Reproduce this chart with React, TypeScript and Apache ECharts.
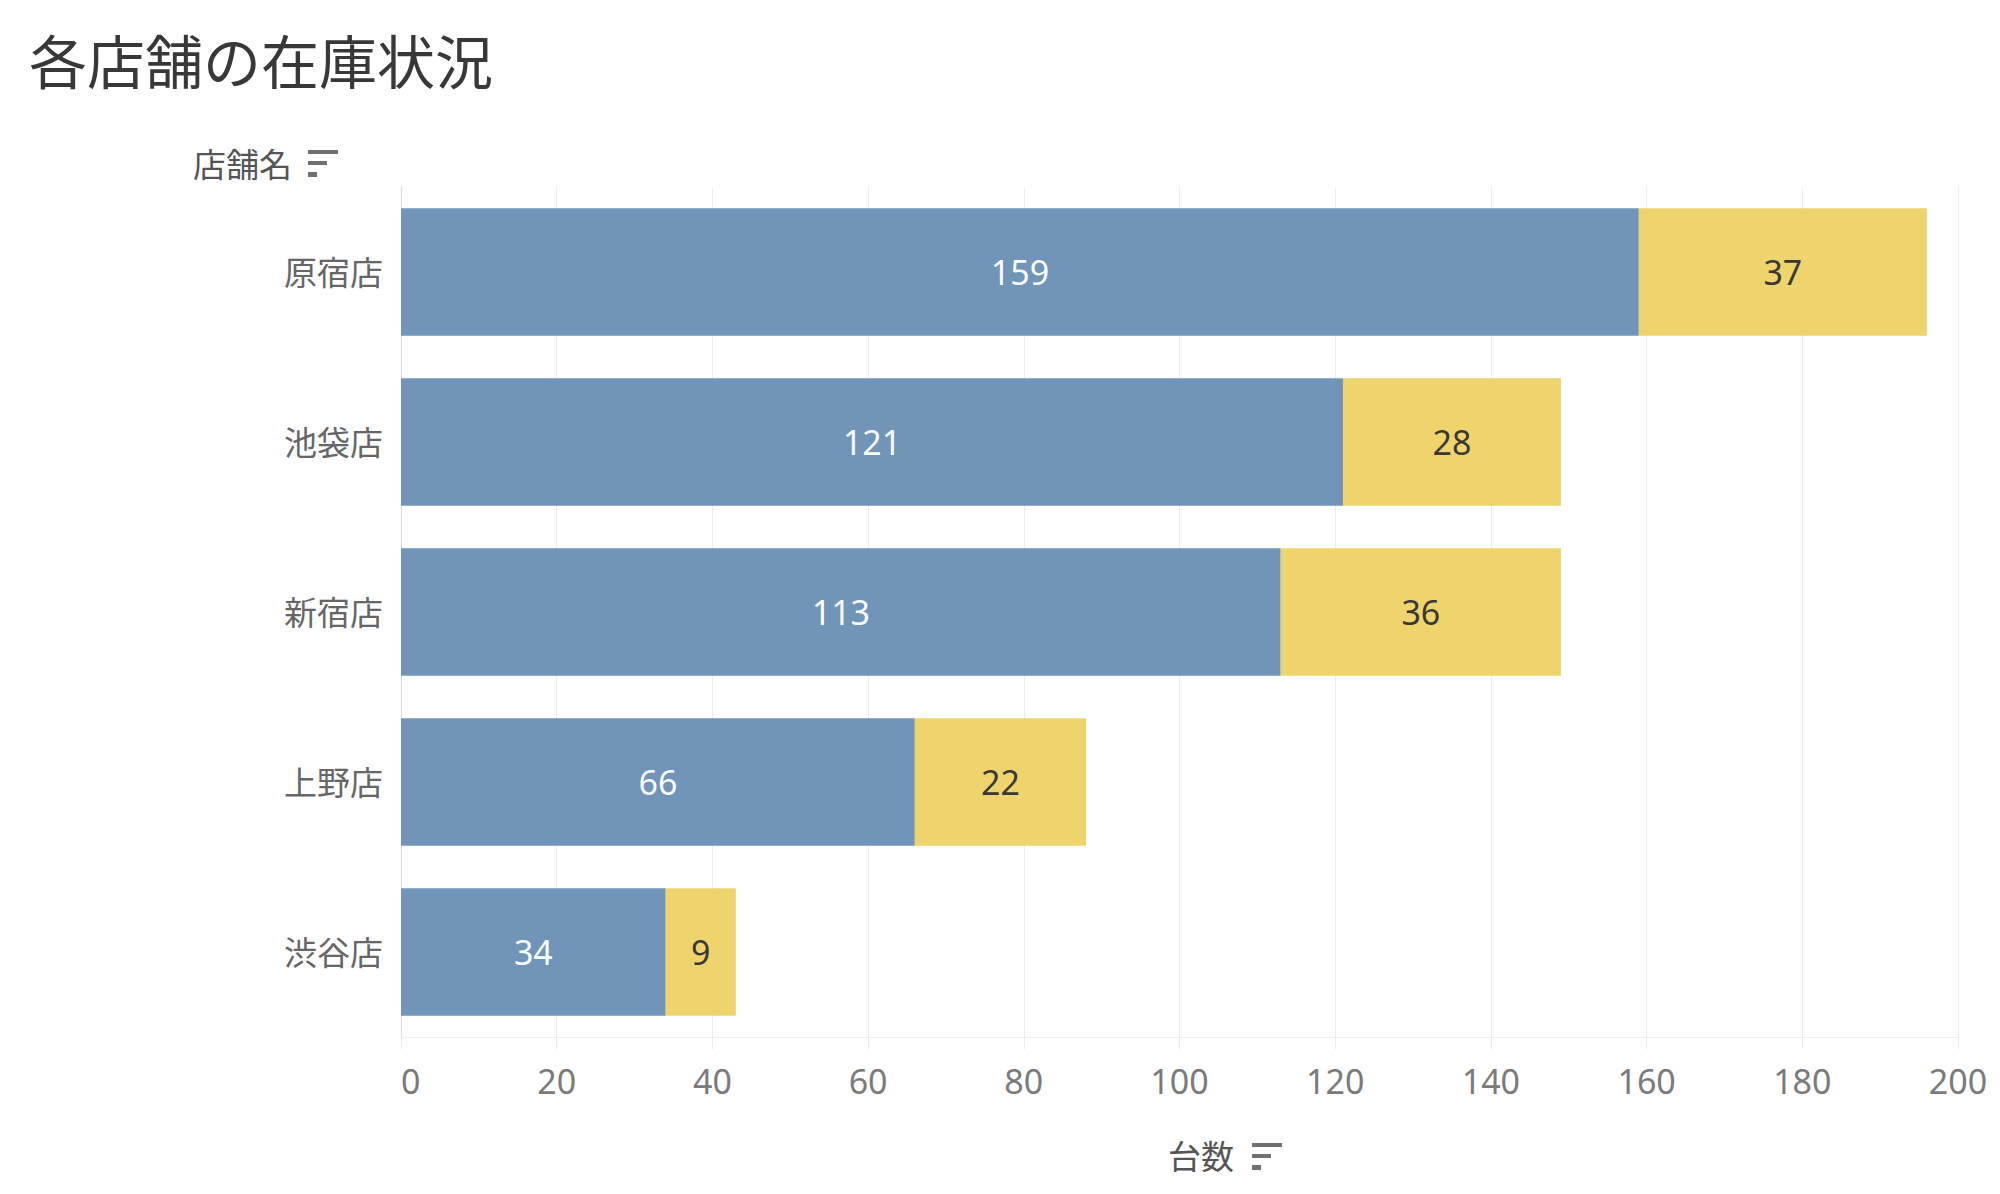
import React, { useEffect, useRef } from "react";
import * as echarts from "echarts";

const stores = ["原宿店", "池袋店", "新宿店", "上野店", "渋谷店"];
const blueValues = [159, 121, 113, 66, 34];
const yellowValues = [37, 28, 36, 22, 9];
const seriesNames = ["在庫", "入荷予定"];
const titleText = "各店舗の在庫状況";
const yAxisName = "店舗名";
const xAxisName = "台数";
const xMin = 0;
const xMax = 200;
const xInterval = 20;

const FONT = '"Noto Sans", "Noto Sans CJK JP", sans-serif';

function sortIcon(x: number, y: number) {
  const c = "#707070";
  return {
    type: "group",
    x,
    y,
    children: [
      { type: "rect", shape: { x: 0, y: 0, width: 30, height: 4 }, style: { fill: c } },
      { type: "rect", shape: { x: 0, y: 11, width: 19, height: 4 }, style: { fill: c } },
      { type: "rect", shape: { x: 0, y: 22, width: 9, height: 5 }, style: { fill: c } },
    ],
  };
}

export default function App() {
  const ref = useRef<HTMLDivElement>(null);
  useEffect(() => {
    if (!ref.current) return;
    const chart = echarts.init(ref.current, null, { renderer: "svg" });
    chart.setOption({
      animation: false,
      backgroundColor: "#ffffff",
      textStyle: { fontFamily: FONT },
      title: {
        text: titleText,
        left: 24,
        top: 27,
        textStyle: { fontSize: 58, fontWeight: "normal", color: "#383838", fontFamily: FONT },
      },
      grid: { left: 401, right: 42, top: 187, bottom: 157, containLabel: false },
      xAxis: {
        type: "value",
        min: xMin,
        max: xMax,
        interval: xInterval,
        axisLine: { show: true, lineStyle: { color: "#eeeeee", width: 1 } },
        axisTick: { show: true, length: 12, lineStyle: { color: "#eaeaea", width: 1 } },
        splitLine: { show: true, lineStyle: { color: "#ececec", width: 1 } },
        axisLabel: {
          fontSize: 34,
          color: "#7a7a7a",
          margin: 27,
          fontFamily: FONT,
          alignMinLabel: "left",
        },
      },
      yAxis: {
        type: "category",
        data: stores,
        inverse: true,
        axisLine: { show: true, lineStyle: { color: "#d8d8d8", type: "dotted", width: 1 } },
        axisTick: { show: false },
        splitLine: { show: false },
        axisLabel: { fontSize: 33, color: "#666666", margin: 18, fontFamily: FONT },
      },
      series: [
        {
          name: seriesNames[0],
          type: "bar",
          stack: "total",
          data: blueValues,
          barCategoryGap: "25%",
          itemStyle: { color: "#6e93b8", opacity: 0.98 },
          label: {
            show: true,
            position: "inside",
            color: "#ffffff",
            fontSize: 34,
            fontFamily: FONT,
          },
        },
        {
          name: seriesNames[1],
          type: "bar",
          stack: "total",
          data: yellowValues,
          barCategoryGap: "25%",
          itemStyle: { color: "#efd36b", opacity: 0.98 },
          label: {
            show: true,
            position: "inside",
            color: "#333333",
            fontSize: 34,
            fontFamily: FONT,
          },
        },
      ],
      graphic: [
        {
          type: "text",
          x: 193,
          y: 164,
          style: {
            text: yAxisName,
            fontSize: 33,
            fill: "#555555",
            fontFamily: FONT,
            verticalAlign: "middle",
            align: "left",
          },
        },
        sortIcon(308, 150),
        {
          type: "text",
          x: 1168,
          y: 1156,
          style: {
            text: xAxisName,
            fontSize: 33,
            fill: "#555555",
            fontFamily: FONT,
            verticalAlign: "middle",
            align: "left",
          },
        },
        sortIcon(1252, 1143),
      ],
    });
    return () => chart.dispose();
  }, []);
  return (
    <div
      ref={ref}
      style={{ position: "fixed", left: 0, top: 0, width: 2000, height: 1194 }}
    />
  );
}
